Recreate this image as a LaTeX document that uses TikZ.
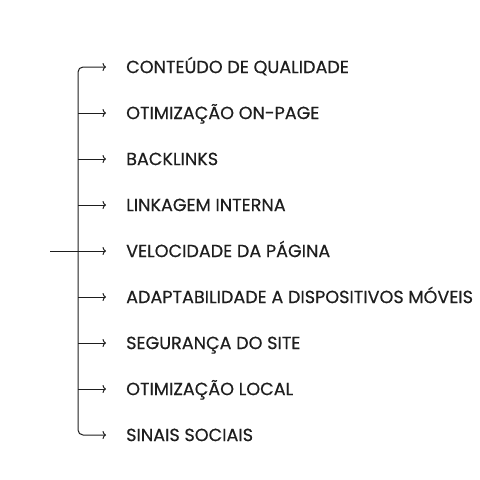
\documentclass[tikz,border=0pt]{standalone}
\usepackage{fontspec}
\setmainfont{Poppins}[FakeBold=0.5]
\usetikzlibrary{arrows.meta}
\definecolor{ink}{HTML}{1E1E1E}
\tikzset{
  item/.style={anchor=west, inner sep=0pt, text height=12.2pt, text depth=0pt,
    text=ink, font=\fontsize{17.6}{20}\selectfont},
  branch/.style={->, draw=ink, line width=1pt}
}
\begin{document}
\begin{tikzpicture}[>={To[length=3.5pt, width=8pt]}, x=1pt, y=-1pt]
    \useasboundingbox (0,0) rectangle (480,480);
    % 1. Các mục
    \node[item] (conteudo) at (126,67) {CONTEÚDO DE QUALIDADE};
    \node[item] (onpage) at (126,113) {OTIMIZAÇÃO ON-PAGE};
    \node[item] (backlinks) at (126,159) {BACKLINKS};
    \node[item] (linkagem) at (126,205) {LINKAGEM INTERNA};
    \node[item] (velocidade) at (126,251) {VELOCIDADE DA PÁGINA};
    \node[item] (adapt) at (126,297) {ADAPTABILIDADE A DISPOSITIVOS MÓVEIS};
    \node[item] (seguranca) at (126,343) {SEGURANÇA DO SITE};
    \node[item] (local) at (126,389) {OTIMIZAÇÃO LOCAL};
    \node[item] (sinais) at (126,435) {SINAIS SOCIAIS};

    % 2. Thân chính
    \coordinate (root) at (50,251);
    \coordinate (trunk) at (78,251);
    \draw[draw=ink, line width=1pt] (root) -- (trunk);
    \draw[branch, <->, rounded corners=5pt]
        ([xshift=-20]conteudo.west) -- (trunk|-conteudo.west)
        -- (trunk|-sinais.west) -- ([xshift=-20]sinais.west);

    % 3. Các nhánh
    \draw[branch] (trunk|-onpage.west) -- ([xshift=-20]onpage.west);
    \draw[branch] (trunk|-backlinks.west) -- ([xshift=-20]backlinks.west);
    \draw[branch] (trunk|-linkagem.west) -- ([xshift=-20]linkagem.west);
    \draw[branch] (trunk) -- ([xshift=-20]velocidade.west);
    \draw[branch] (trunk|-adapt.west) -- ([xshift=-20]adapt.west);
    \draw[branch] (trunk|-seguranca.west) -- ([xshift=-20]seguranca.west);
    \draw[branch] (trunk|-local.west) -- ([xshift=-20]local.west);
\end{tikzpicture}
\end{document}
